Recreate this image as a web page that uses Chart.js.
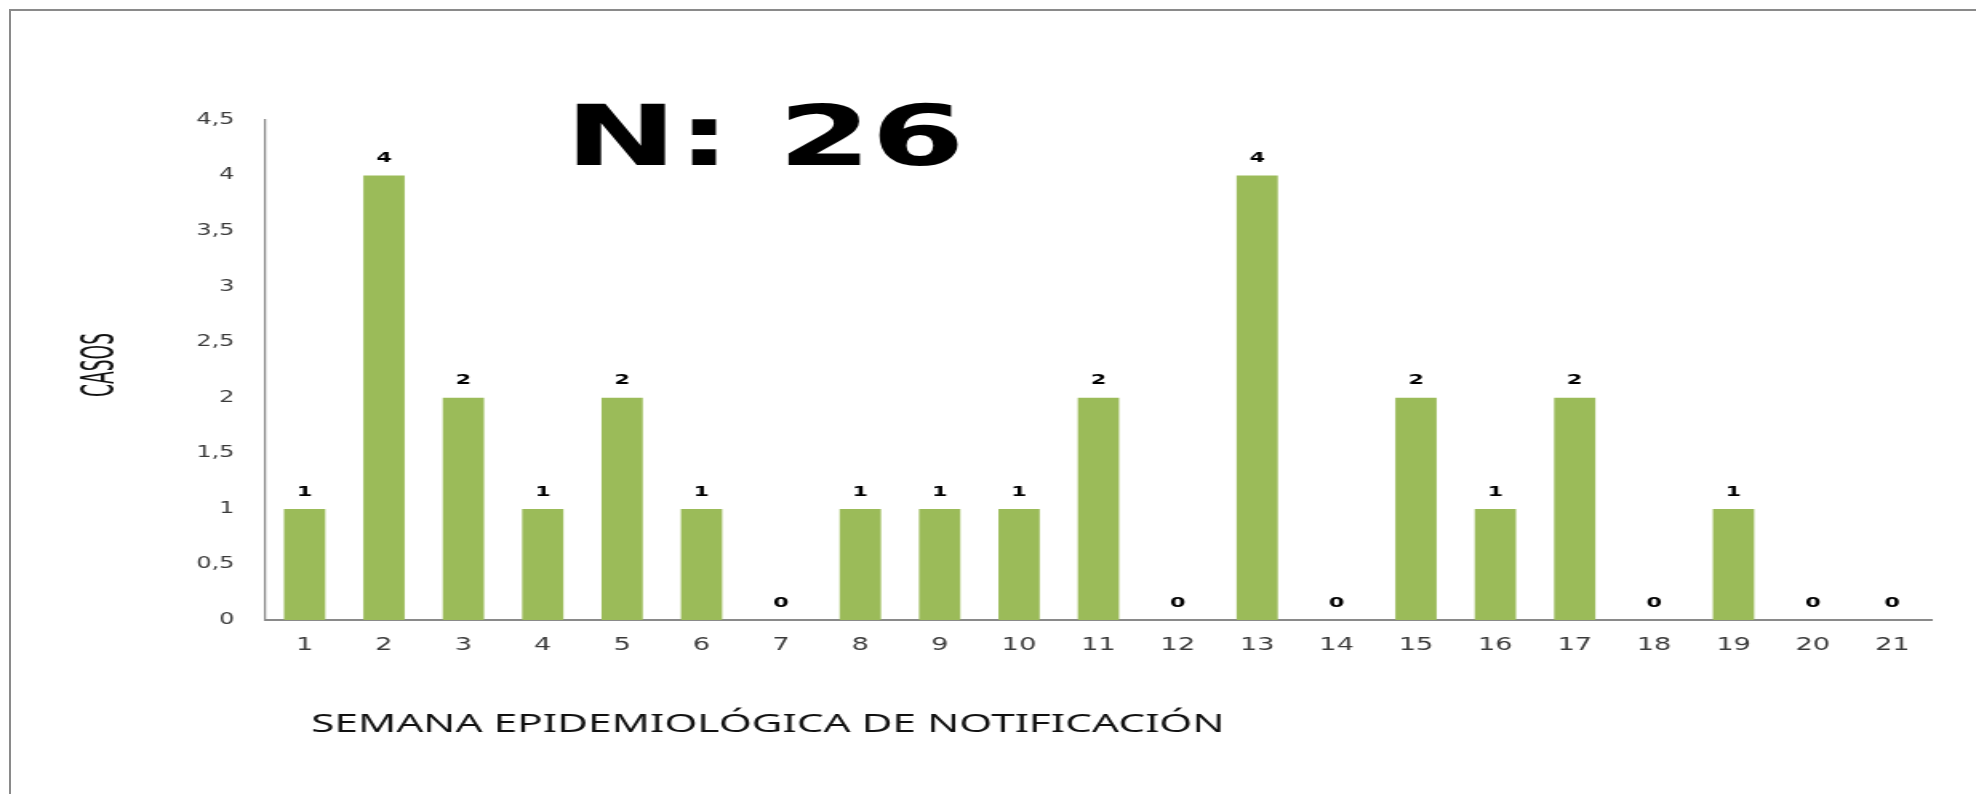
<!DOCTYPE html>
<html>
<head>
<meta charset="utf-8">
<script src="https://cdn.jsdelivr.net/npm/chart.js@4.4.1/dist/chart.umd.min.js"></script>
<style>
  html, body { margin: 0; padding: 0; background: #fff; overflow: hidden; }
  #frame { position: absolute; left: 9px; top: 9px; width: 2000px; height: 800px;
           border-left: 2px solid #8a8a8a; border-top: 2px solid #8a8a8a; pointer-events: none; }
  /* the original picture is stretched sideways, so the chart is drawn narrow and widened */
  #wrap { position: absolute; left: 0; top: 0; width: 1235px; height: 794px;
          transform: scaleX(1.6); transform-origin: 0 0; }
</style>
</head>
<body>
<div id="wrap"><canvas id="chart-casos-semana"></canvas></div>
<div id="frame"></div>
<script>
const semanas = ['1','2','3','4','5','6','7','8','9','10','11','12','13','14','15','16','17','18','19','20','21'];
const casos = [1, 4, 2, 1, 2, 1, 0, 1, 1, 1, 2, 0, 4, 0, 2, 1, 2, 0, 1, 0, 0];
const yTicksMax = 4.5;
const yTicksStep = 0.5;
const tituloY = 'CASOS';
const tituloX = 'SEMANA EPIDEMIOLÓGICA DE NOTIFICACIÓN';

const barGreen = '#9bbb59';
const axisGray = '#8a8a8a';
const tickColor = '#3a3a3a';

const totalCasos = casos.reduce((a, b) => a + b, 0);

const extraTextPlugin = {
    id: 'extraText',
    afterDatasetsDraw: (chart) => {
        const ctx = chart.ctx;
        const meta = chart.getDatasetMeta(0);
        ctx.save();
        ctx.fillStyle = '#000';
        ctx.font = 'bold 14px "DejaVu Sans", Verdana, sans-serif';
        ctx.textAlign = 'center'; ctx.textBaseline = 'bottom';
        meta.data.forEach((bar, i) => ctx.fillText(String(casos[i]), bar.x, bar.y - 10));
        ctx.restore();
    },
    afterDraw: (chart) => {
        const ctx = chart.ctx;
        ctx.save();
        // big N label
        ctx.fillStyle = '#000';
        ctx.font = 'bold 84px "DejaVu Sans", Verdana, sans-serif';
        ctx.textAlign = 'left'; ctx.textBaseline = 'alphabetic';
        ctx.fillText('N: ' + totalCasos, 353, 165);

        // x axis title, fitted to the width it has in the original
        ctx.font = '26px "Noto Sans", "Open Sans", sans-serif';
        ctx.fillStyle = '#111';
        const w = ctx.measureText(tituloX).width;
        ctx.save();
        ctx.translate(194.4, 732);
        ctx.scale(571 / w, 1);
        ctx.fillText(tituloX, 0, 0);
        ctx.restore();

        // y axis title
        ctx.font = '28px "Liberation Sans Narrow", "DejaVu Sans Condensed", "Noto Sans", sans-serif';
        ctx.translate(61.3, 365); ctx.rotate(-Math.PI / 2);
        ctx.textAlign = 'center';
        ctx.fillText(tituloY, 0, 10, 64);
        ctx.restore();
    }
};

new Chart(document.getElementById('chart-casos-semana'), {
    type: 'bar',
    data: {
        labels: semanas,
        datasets: [{ data: casos, backgroundColor: barGreen, borderWidth: 0, barPercentage: 0.52, categoryPercentage: 1 }]
    },
    options: {
        responsive: true, maintainAspectRatio: false, animation: false,
        layout: { padding: { top: 120, right: 27.5, bottom: 0, left: 0 } },
        plugins: { legend: { display: false }, tooltip: { enabled: false } },
        scales: {
            x: {
                grid: { display: false, drawTicks: false },
                border: { display: true, color: axisGray, width: 2 },
                ticks: { color: tickColor, padding: 15, font: { family: '"DejaVu Sans", Verdana, sans-serif', size: 17 } },
                afterFit: (scale) => { scale.height = 174; }
            },
            y: {
                min: 0, max: yTicksMax,
                grid: { display: false, drawTicks: false },
                border: { display: true, color: axisGray, width: 1.25 },
                ticks: {
                    stepSize: yTicksStep, color: tickColor, padding: 19,
                    font: { family: '"DejaVu Sans", Verdana, sans-serif', size: 15 },
                    callback: (v) => String(v).replace('.', ',')
                },
                afterFit: (scale) => { scale.width = 165.6; }
            }
        }
    },
    plugins: [extraTextPlugin]
});
</script>
</body>
</html>
